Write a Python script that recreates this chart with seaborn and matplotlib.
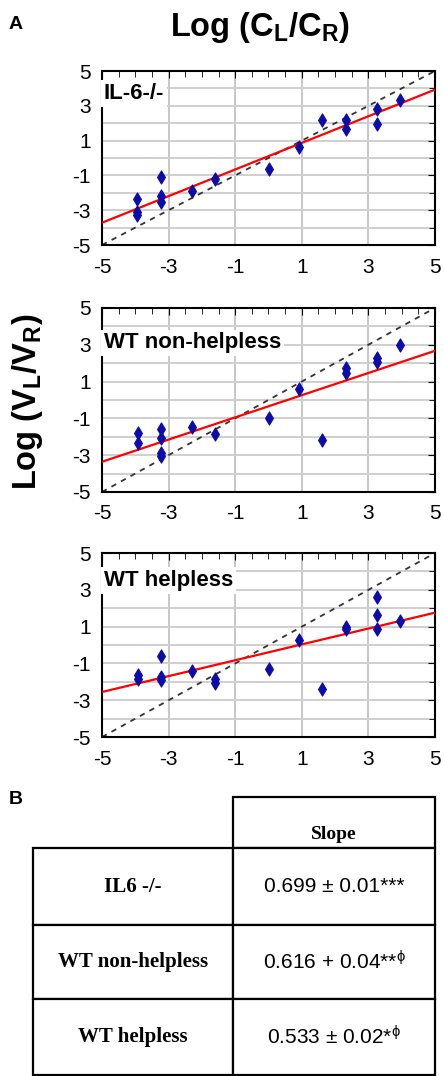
import matplotlib
matplotlib.use("Agg")
import matplotlib.pyplot as plt
import seaborn as sns
import pandas as pd

# Log(CL/CR) vs Log(VL/VR)
x_il6 = [-3.95, -3.95, -3.95, -3.22, -3.22, -3.22, -2.3, -1.6, 0.03, 0.93, 1.62, 2.32, 2.32, 3.25, 3.25, 3.95]
y_il6 = [-2.38, -3.1, -3.28, -1.12, -2.19, -2.51, -1.88, -1.21, -0.64, 0.64, 2.17, 2.21, 1.69, 2.84, 1.94, 3.32]

x_nh = [-3.92, -3.92, -3.22, -3.22, -3.22, -3.22, -2.3, -1.6, 0.03, 0.93, 1.62, 2.32, 2.32, 3.25, 3.25, 3.95]
y_nh = [-1.82, -2.33, -1.6, -2.09, -2.91, -3.04, -1.45, -1.85, -1.0, 0.58, -2.18, 1.76, 1.49, 2.27, 2.04, 2.96]

x_h = [-3.92, -3.92, -3.22, -3.22, -3.22, -2.3, -1.6, -1.6, 0.03, 0.93, 1.62, 2.32, 2.32, 3.25, 3.25, 3.25, 3.95]
y_h = [-1.64, -1.87, -0.6, -1.73, -1.91, -1.42, -1.87, -2.04, -1.31, 0.27, -2.4, 0.96, 0.85, 2.6, 1.64, 0.85, 1.33]

# fitted line end values at x = -5 and x = 5
fit_x = [-5, 5]
fit_il6 = [-3.72, 3.93]
fit_nh = [-3.36, 2.67]
fit_h = [-2.55, 1.76]
identity = [-5, 5]

panel_names = ["IL-6-/-", "WT non-helpless", "WT helpless"]
label_y = [3.7, 3.1, 3.5]
ticks = [-5, -3, -1, 1, 3, 5]

table_rows = ["IL6 -/-", "WT non-helpless", "WT helpless"]
table_slopes = ["0.699 \u00b1 0.01***", "0.616 + 0.04**$^{\\phi}$", "0.533 \u00b1 0.02*$^{\\phi}$"]

sns.set_style("white")
plt.rcParams["font.family"] = ["Liberation Sans", "DejaVu Sans"]
plt.rcParams["mathtext.default"] = "regular"
plt.rcParams["axes.unicode_minus"] = False
plt.rcParams["text.color"] = "black"
plt.rcParams["xtick.color"] = "black"
plt.rcParams["ytick.color"] = "black"

fig = plt.figure(figsize=(4.44, 10.76), dpi=100)

positions = [
    [0.2297, 0.7723, 0.75, 0.1617],
    [0.2297, 0.5428, 0.75, 0.1710],
    [0.2297, 0.3150, 0.75, 0.1710],
]
panels = [(x_il6, y_il6, fit_il6), (x_nh, y_nh, fit_nh), (x_h, y_h, fit_h)]

for pos, (xs, ys, fit), name, ly in zip(positions, panels, panel_names, label_y):
    ax = fig.add_axes(pos)
    df = pd.DataFrame({"x": xs, "y": ys})

    for v in [-3, -1, 1, 3]:
        ax.axvline(v, color="#bdbdbd", lw=1.2, zorder=0)
    for h in range(-4, 5):
        ax.axhline(h, color="#cfcfcf", lw=1.4, zorder=0)

    sns.lineplot(x=identity, y=identity, ax=ax, color="#333333", lw=1.3,
                 linestyle=(0, (3, 3)), zorder=2)
    sns.lineplot(x=fit_x, y=fit, ax=ax, color="red", lw=1.6, zorder=3)
    sns.scatterplot(data=df, x="x", y="y", ax=ax, marker="d", s=45,
                    color="#0c0ca8", edgecolor="#0c0ca8", linewidth=0.8, zorder=4)

    ax.text(-4.95, ly, name, fontsize=16, fontweight="bold", va="center", ha="left",
            bbox=dict(facecolor="white", edgecolor="none", pad=2), zorder=5)

    ax.set_xlim(-5, 5)
    ax.set_ylim(-5, 5)
    ax.set_xticks(ticks)
    ax.set_yticks(ticks)
    ax.set_xticks([i * 0.5 - 5 for i in range(21)], minor=True)
    ax.set_yticks(range(-5, 6), minor=True)
    ax.tick_params(which="both", direction="in", top=True, right=True, color="black")
    ax.tick_params(which="major", length=5, labelsize=15)
    ax.tick_params(which="minor", length=4)
    ax.tick_params(axis="x", pad=9)
    ax.tick_params(axis="y", pad=8)
    ax.set_xlabel("")
    ax.set_ylabel("")
    for s in ax.spines.values():
        s.set_color("black")
        s.set_linewidth(1.5)

fig.text(0.586, 0.974, "Log (C$_L$/C$_R$)", fontsize=23.5, fontweight="bold",
         ha="center", va="center")
fig.text(0.063, 0.627, "Log (V$_L$/V$_R$)", fontsize=23.5, fontweight="bold",
         ha="center", va="center", rotation=90)
fig.text(0.02, 0.977, "A", fontsize=14, fontweight="bold", ha="left", va="center")
fig.text(0.02, 0.257, "B", fontsize=14, fontweight="bold", ha="left", va="center")

# slope table
ax_t = fig.add_axes([0.0743, 0.0009, 0.9054, 0.2584])
ax_t.axis("off")
cell_text = [["", "\nSlope"]] + [[r, s] for r, s in zip(table_rows, table_slopes)]
tbl = ax_t.table(cellText=cell_text, cellLoc="center", colWidths=[0.4975, 0.5025],
                 bbox=[0, 0, 1, 1])
tbl.auto_set_font_size(False)
row_h = [51, 77, 74, 76]
for (r, c), cell in tbl.get_celld().items():
    cell.set_height(row_h[r] / 278)
    cell.set_linewidth(1.6)
    cell.set_edgecolor("black")
    txt = cell.get_text()
    if c == 0:
        txt.set_fontfamily(["Liberation Serif"])
        txt.set_fontweight("bold")
        txt.set_fontsize(15)
    else:
        txt.set_fontfamily(["Liberation Sans", "DejaVu Sans"])
        txt.set_fontsize(15)
tbl[(0, 0)].visible_edges = ""
hdr = tbl[(0, 1)].get_text()
hdr.set_fontfamily(["Liberation Serif"])
hdr.set_fontweight("bold")
hdr.set_fontsize(14)
hdr.set_linespacing(1.5)

fig.savefig("out.png", dpi=100)
